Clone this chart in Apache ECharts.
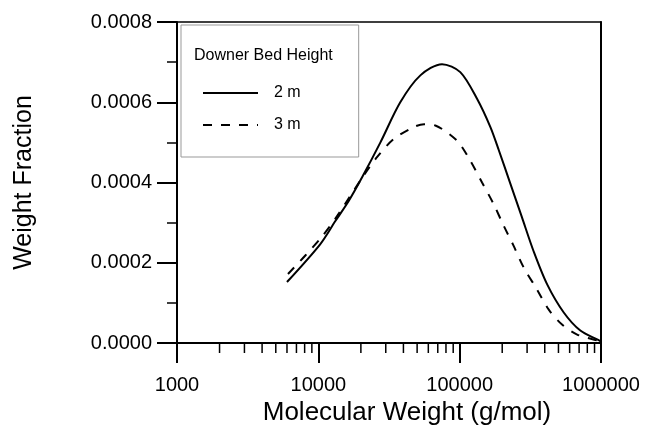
<!DOCTYPE html>
<html>
<head>
<meta charset="utf-8">
<script src="https://cdn.jsdelivr.net/npm/echarts@6/dist/echarts.min.js"></script>
<style>html,body{margin:0;padding:0;background:#fff}#c{width:650px;height:433px}</style>
</head>
<body>
<div id="c"></div>
<script>
// Molecular weight (g/mol) and weight fraction for each downer bed height
var mw2m = [6000, 10300, 13200, 16400, 20400, 27500, 38000, 52700, 75000, 101000, 133000, 165000, 189000, 228000, 276000, 334000, 416000, 545000, 714000, 963000, 1000000];
var wf2m = [0.000152, 0.000246, 0.000304, 0.000354, 0.000413, 0.000500, 0.000600, 0.000667, 0.000695, 0.000675, 0.000608, 0.000538, 0.000481, 0.000398, 0.000313, 0.000228, 0.000146, 0.000076, 0.000031, 0.000007, 0.000003];
var mw3m = [6100, 8090, 10600, 13200, 20900, 26000, 34100, 47200, 56000, 67300, 95900, 119000, 144000, 174000, 205000, 241000, 284000, 353000, 427000, 530000, 678000, 963000, 1000000];
var wf3m = [0.000172, 0.000218, 0.000265, 0.000310, 0.000417, 0.000463, 0.000508, 0.000538, 0.000545, 0.000542, 0.000504, 0.000454, 0.000400, 0.000346, 0.000292, 0.000242, 0.000188, 0.000133, 0.000083, 0.000046, 0.000021, 0.000005, 0.000002];
var seriesNames = ['2 m', '3 m'];
var legendTitle = 'Downer Bed Height';
var xMin = 1000, xMax = 1000000;
var yMin = 0, yMax = 0.0008, yStep = 0.0002;
var xMinorTicks = [2000, 3000, 4000, 5000, 6000, 7000, 8000, 9000,
  20000, 30000, 40000, 50000, 60000, 70000, 80000, 90000,
  200000, 300000, 400000, 500000, 600000, 700000, 800000, 900000];

function pairs(xs, ys) { return xs.map(function (x, i) { return [x, ys[i]]; }); }

var FONT = 'Liberation Sans';
var chart = echarts.init(document.getElementById('c'), null, { renderer: 'canvas' });
chart.setOption({
  backgroundColor: '#fff',
  animation: false,
  textStyle: { fontFamily: FONT, color: '#000' },
  grid: { left: 177, right: 49, top: 22, bottom: 90, containLabel: false },
  xAxis: [{
    type: 'log', logBase: 10, min: xMin, max: xMax, position: 'bottom',
    axisLine: { show: true, onZero: false, lineStyle: { color: '#000', width: 2 } },
    axisTick: { show: true, length: 20, lineStyle: { color: '#000', width: 2 } },
    axisLabel: { margin: 32, fontSize: 20, color: '#000', fontFamily: FONT,
      formatter: function (v) { return String(Math.round(v)); } },
    splitLine: { show: false },
    name: 'Molecular Weight (g/mol)', nameLocation: 'middle', nameGap: 47,
    nameTextStyle: { fontSize: 26, color: '#000', fontFamily: FONT, padding: [0, 0, 0, 36] }
  }, {
    type: 'log', logBase: 10, min: xMin, max: xMax, position: 'top',
    axisLine: { show: true, onZero: false, lineStyle: { color: '#000', width: 1.5 } },
    axisTick: { show: false }, axisLabel: { show: false }, splitLine: { show: false }
  }],
  yAxis: [{
    type: 'value', min: yMin, max: yMax, interval: yStep, position: 'left',
    axisLine: { show: true, onZero: false, lineStyle: { color: '#000', width: 2 } },
    axisTick: { show: true, length: 20, lineStyle: { color: '#000', width: 2 } },
    minorTick: { show: true, splitNumber: 2, length: 10, lineStyle: { color: '#000', width: 1.5 } },
    axisLabel: { margin: 25, fontSize: 20, color: '#000', fontFamily: FONT,
      formatter: function (v) { return v.toFixed(4); } },
    splitLine: { show: false },
    name: 'Weight Fraction', nameLocation: 'middle', nameGap: 140,
    nameTextStyle: { fontSize: 25, color: '#000', fontFamily: FONT }
  }, {
    type: 'value', min: yMin, max: yMax, interval: yStep, position: 'right',
    axisLine: { show: true, onZero: false, lineStyle: { color: '#000', width: 2 } },
    axisTick: { show: false }, axisLabel: { show: false }, splitLine: { show: false }
  }],
  legend: {
    data: seriesNames, orient: 'vertical', left: 181, top: 25,
    padding: [60, 58, 24, 21], itemWidth: 55, itemHeight: 14, itemGap: 16,
    borderColor: '#999', borderWidth: 1, backgroundColor: 'transparent',
    itemStyle: { color: 'rgba(0,0,0,0)', borderColor: 'rgba(0,0,0,0)', borderWidth: 0 },
    textStyle: { fontSize: 16, color: '#000', fontFamily: FONT, padding: [0, 0, 0, 11] }
  },
  graphic: [{
    type: 'text', left: 194, top: 48, z: 100,
    style: { text: legendTitle, fontSize: 16, fontFamily: FONT, fill: '#000' }
  }],
  series: [{
    name: seriesNames[0], type: 'line', data: pairs(mw2m, wf2m),
    symbol: 'none', smooth: 0.3,
    lineStyle: { color: '#000', width: 2, type: 'solid' }, itemStyle: { color: '#000' }
  }, {
    name: seriesNames[1], type: 'line', data: pairs(mw3m, wf3m),
    symbol: 'none', smooth: 0.3,
    lineStyle: { color: '#000', width: 2, type: [9, 9] }, itemStyle: { color: '#000' }
  }, {
    name: 'minorTicks', type: 'custom', silent: true, clip: false,
    data: xMinorTicks.map(function (v) { return [v, yMin]; }),
    renderItem: function (params, api) {
      var p = api.coord([api.value(0), api.value(1)]);
      return { type: 'line', shape: { x1: p[0], y1: p[1], x2: p[0], y2: p[1] + 10 },
        style: { stroke: '#000', lineWidth: 1.5 } };
    }
  }]
});
</script>
</body>
</html>
